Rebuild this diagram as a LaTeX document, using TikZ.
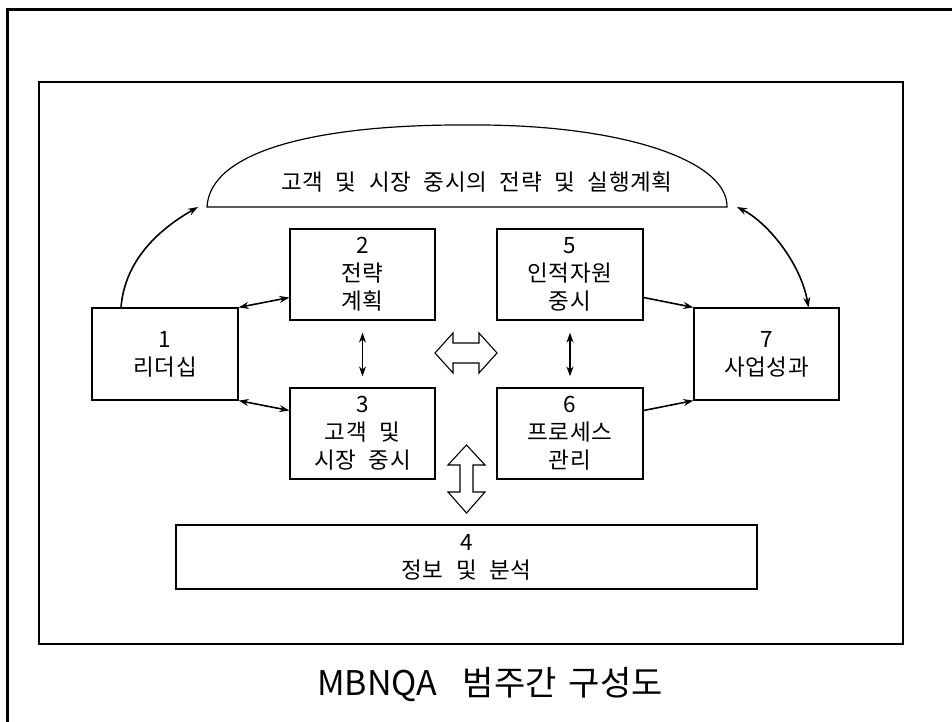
\documentclass[tikz,border=0pt]{standalone}
\usepackage{fontspec}
\setmainfont{Noto Sans CJK KR}[WordSpace=2.2,LetterSpace=3]
\newfontfamily\titlefont{Noto Sans CJK KR}[WordSpace=1.6]
\usetikzlibrary{arrows.meta}
\begin{document}
\begin{tikzpicture}[x=1pt,y=-1pt,
  box/.style={draw,line width=1.2pt,inner sep=0pt,align=center,font=\fontsize{22.5}{28}\selectfont},
  tip/.tip={Stealth[length=10pt,width=7pt]},
  con/.style={line width=1.6pt,-tip},
  dcon/.style={line width=1.6pt,tip-tip},
  hollow/.style={draw,line width=1.1pt,fill=white,line join=miter}]
\useasboundingbox (0,0) rectangle (952,722);
% outer frame (top and left edges)
\draw[line width=3pt] (7,722) -- (7,10) -- (952,10);
% inner frame
\draw[line width=1.2pt] (39,82) rectangle (903,644);
% dome
\coordinate (dl) at (207,207);
\coordinate (dr) at (727,207);
\draw[line width=1.2pt] (dl) .. controls (210,150) and (320,124) .. (470,125)
  .. controls (620,124) and (728,160) .. (dr) -- cycle;
\node[font=\fontsize{22.5}{28}\selectfont] (dome) at (477,182) {고객 및 시장 중시의 전략 및 실행계획};
% boxes
\node[box,minimum width=146pt,minimum height=92pt] (b1) at (165,354) {1\\리더십};
\node[box,minimum width=145pt,minimum height=91pt] (b2) at (362.5,274.5) {2\\전략\\계획};
\node[box,minimum width=145pt,minimum height=91pt] (b3) at (362.5,433.5) {3\\고객 및\\시장 중시};
\node[box,minimum width=146pt,minimum height=91pt] (b5) at (570,274.5) {5\\인적자원\\중시};
\node[box,minimum width=146pt,minimum height=91pt] (b6) at (570,433.5) {6\\프로세스\\관리};
\node[box,minimum width=145pt,minimum height=92pt] (b7) at (766.5,354) {7\\사업성과};
\node[box,minimum width=581pt,minimum height=64pt] (b4) at (466.5,557) {4\\정보 및 분석};
% connectors
\draw[con] ([xshift=-44pt]b1.north) .. controls +(4,-50) and +(-35,20) .. ([xshift=-9pt]dl);
\draw[dcon] ([xshift=10pt]dr) .. controls +(30,15) and +(-8,-45) .. ([xshift=42pt]b7.north);
\draw[dcon] (b1.north east) -- ([yshift=-23pt]b2.west);
\draw[dcon] (b1.south east) -- ([yshift=23pt]b3.west);
\draw[dcon] ([yshift=-12pt]b2.south) -- ([yshift=11pt]b3.north);
\draw[dcon] ([yshift=-12pt]b5.south) -- ([yshift=11pt]b6.north);
\draw[con] ([yshift=-23pt]b5.east) -- (b7.north west);
\draw[con] ([yshift=23pt]b6.east) -- (b7.south west);
% hollow arrows
\draw[hollow] (435,353) -- (453,333) -- (453,343) -- (479,343) -- (479,333) -- (497,353)
  -- (479,373) -- (479,363) -- (453,363) -- (453,373) -- cycle;
\draw[hollow] (466.5,445) -- (485,465) -- (473,465) -- (473,492) -- (485,492) -- (466.5,513)
  -- (448,492) -- (460,492) -- (460,465) -- (448,465) -- cycle;
% title
\node[font=\titlefont\fontsize{34}{40}\selectfont] (title) at (490,685) {MBNQA\hspace{0.4em} 범주간 구성도};
\end{tikzpicture}
\end{document}
